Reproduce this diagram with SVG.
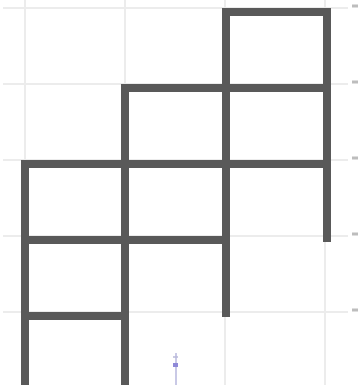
<svg xmlns="http://www.w3.org/2000/svg" width="360" height="385" viewBox="0 0 360 385">
<style>
.grid{stroke:#ececec;stroke-width:2;fill:none}
.tick{stroke:#bdbdbd;stroke-width:3;fill:none}
.edge{stroke:#595959;stroke-width:8;fill:none;stroke-linecap:square}
</style>
<rect width="360" height="385" fill="#ffffff"/>
<g id="grid">
<path class="grid" d="M25 0V385M125 0V385M225 0V385M325 0V385"/>
<path class="grid" d="M3 8H348M3 84H348M3 160H348M3 236H348M3 312H348"/>
<path class="tick" d="M352 6H358M352 82H358M352 158H358M352 234H358M352 310H358"/>
</g>
<g id="connectors">
<path class="edge" d="M25 168V390M125 92V390M226 12V313M327 12V238"/>
<path class="edge" d="M226 12H327M125 88H327M25 164H327M25 240H226M25 316H125"/>
</g>
<g id="marker">
<path d="M176 353V385" stroke="#c9c9e6" stroke-width="2"/>
<path d="M173 357H178" stroke="#b9b9d9" stroke-width="1.5"/>
<rect x="173" y="363" width="5" height="4" fill="#8e88d8"/>
</g>
</svg>
